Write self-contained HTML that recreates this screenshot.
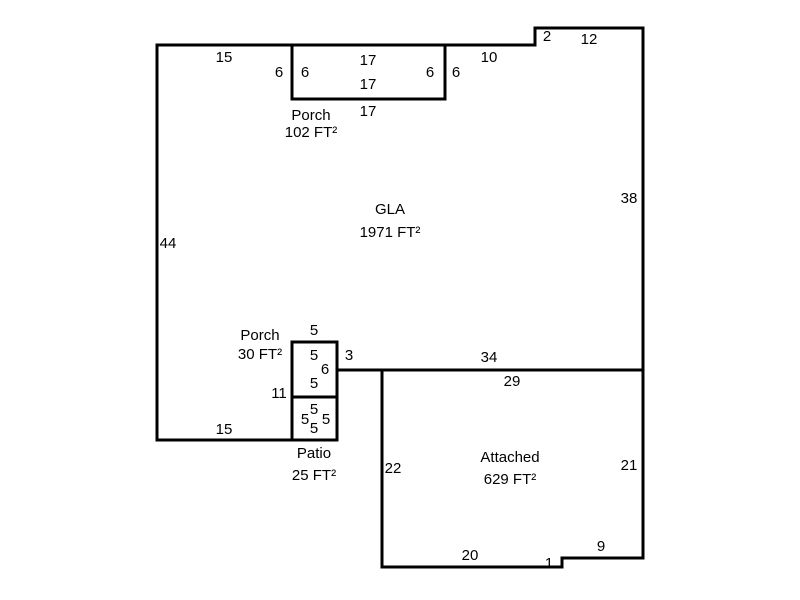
<!DOCTYPE html>
<html><head><style>html,body{margin:0;padding:0;background:#fff}svg{display:block}text{font-family:"Liberation Sans",Arial,sans-serif;font-size:15px;fill:#000}</style></head>
<body>
<svg width="800" height="600" xmlns="http://www.w3.org/2000/svg">
<g stroke="#000" stroke-width="3" fill="none" stroke-linecap="square">
<polyline points="337,440 157,440 157,45 535,45 535,28 643,28 643,558 562,558 562,567 382,567 382,370"/>
<line x1="337" y1="370" x2="643" y2="370"/>
<rect x="292" y="45" width="153" height="54"/>
<rect x="292" y="342" width="45" height="55"/>
<rect x="292" y="397" width="45" height="43"/>
</g>
<g text-anchor="middle">
<text x="224" y="62">15</text>
<text x="279" y="77">6</text>
<text x="305" y="77">6</text>
<text x="368" y="65">17</text>
<text x="368" y="89">17</text>
<text x="430" y="77">6</text>
<text x="456" y="77">6</text>
<text x="368" y="116">17</text>
<text x="489" y="62">10</text>
<text x="547" y="41">2</text>
<text x="589" y="44">12</text>
<text x="311" y="120">Porch</text>
<text x="311" y="137">102 FT²</text>
<text x="390" y="214">GLA</text>
<text x="390" y="237">1971 FT²</text>
<text x="629" y="203">38</text>
<text x="168" y="248">44</text>
<text x="260" y="340">Porch</text>
<text x="260" y="359">30 FT²</text>
<text x="314" y="335">5</text>
<text x="314" y="360">5</text>
<text x="325" y="374">6</text>
<text x="314" y="388">5</text>
<text x="349" y="360">3</text>
<text x="489" y="362">34</text>
<text x="512" y="386">29</text>
<text x="279" y="398">11</text>
<text x="314" y="414">5</text>
<text x="305" y="424">5</text>
<text x="326" y="424">5</text>
<text x="314" y="433">5</text>
<text x="224" y="434">15</text>
<text x="314" y="458">Patio</text>
<text x="314" y="480">25 FT²</text>
<text x="393" y="473">22</text>
<text x="510" y="462">Attached</text>
<text x="510" y="484">629 FT²</text>
<text x="629" y="470">21</text>
<text x="470" y="560">20</text>
<text x="549" y="568">1</text>
<text x="601" y="551">9</text>
</g>
</svg>
</body></html>
